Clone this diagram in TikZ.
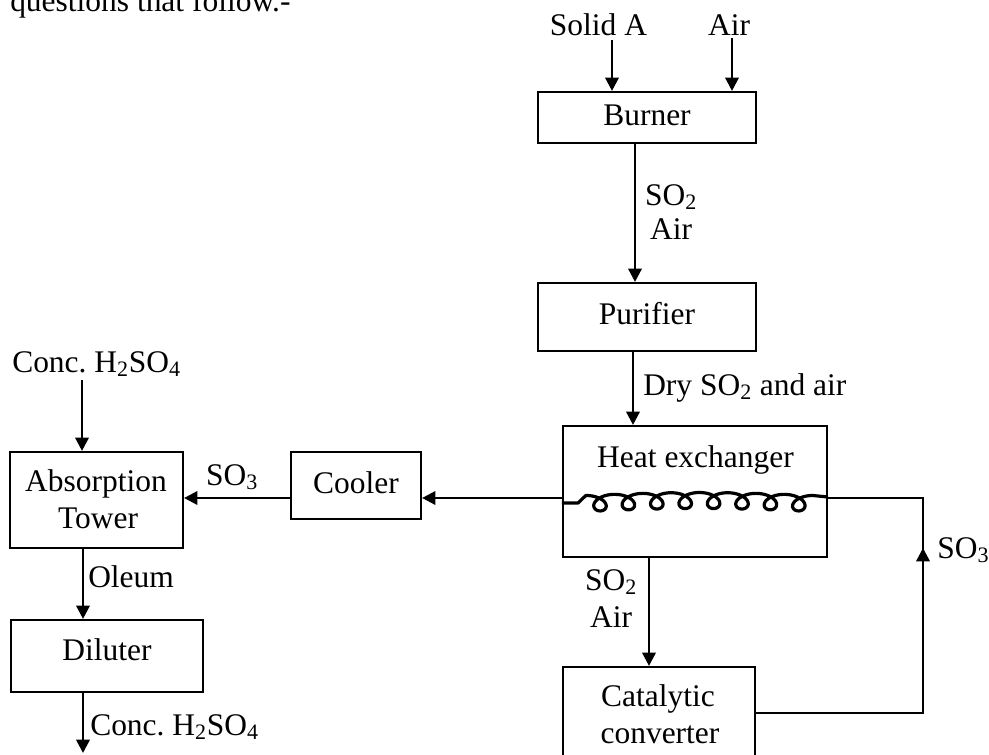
\documentclass[tikz,border=0pt]{standalone}
\usepackage{fontspec}
\setmainfont{Liberation Serif}
\usetikzlibrary{arrows.meta,calc}
\begin{document}
\begin{tikzpicture}[x=0.75pt,y=-0.75pt,
  box/.style={draw, line width=1.6pt, inner sep=0pt},
  txt/.style={inner sep=0pt, anchor=base, font=\fontsize{23.6}{28}\selectfont},
  ltxt/.style={txt, anchor=base west},
  arr/.style={line width=1.9pt, -{Triangle[length=10pt,width=10pt]}},
  ln/.style={line width=1.3pt},
  coilline/.style={line width=2.4pt, line join=round}]
\useasboundingbox (0,0) rectangle (989,754);

% boxes
\node[box, minimum width=163.5pt, minimum height=38.25pt] (burner) at (647,117.5) {};
\node[box, minimum width=163.5pt, minimum height=51pt] (purifier) at (647,317) {};
\node[box, minimum width=198pt, minimum height=98.25pt] (hx) at (695,491.5) {};
\node[box, minimum width=144pt, minimum height=77.25pt] (cat) at (659,718.5) {};
\node[box, minimum width=97.5pt, minimum height=50.25pt] (cooler) at (356,485.5) {};
\node[box, minimum width=129.75pt, minimum height=72pt] (abs) at (96.5,500) {};
\node[box, minimum width=144pt, minimum height=54pt] (dil) at (107,656) {};

% texts
\node[ltxt] (tQ) at (10,11) {questions that follow.-};
\node[txt] (tSolid) at (598.5,35) {Solid A};
\node[txt] (tAir) at (729,35) {Air};
\node[txt] (tBurner) at (647,125) {Burner};
\node[txt] (tSOa) at (671,205) {SO\textsubscript{2}};
\node[txt] (tAira) at (671,239) {Air};
\node[txt] (tPur) at (647,324) {Purifier};
\node[ltxt] (tDry) at (643,395) {Dry SO\textsubscript{2} and air};
\node[txt] (tHX) at (695.5,467) {Heat exchanger};
\node[txt] (tSOb) at (611,590) {SO\textsubscript{2}};
\node[txt] (tAirb) at (611,627) {Air};
\node[txt] (tCatA) at (658,706) {Catalytic};
\node[txt] (tCatB) at (660,743) {converter};
\node[ltxt] (tSOr) at (937,558) {SO\textsubscript{3}};
\node[txt] (tAbsA) at (96,491) {Absorption};
\node[txt] (tAbsB) at (98,528) {Tower};
\node[txt] (tSOl) at (232,485) {SO\textsubscript{3}};
\node[txt] (tCool) at (356,493) {Cooler};
\node[ltxt] (tConcTop) at (12,372) {Conc.\ H\textsubscript{2}SO\textsubscript{4}};
\node[ltxt] (tOleum) at (88,587) {Oleum};
\node[txt] (tDil) at (107,660) {Diluter};
\node[ltxt] (tConcBot) at (90,735) {Conc.\ H\textsubscript{2}SO\textsubscript{4}};

% helper coordinates
\coordinate (pSA) at (612,40);
\coordinate (pAir) at (732,38);
\coordinate (xBP) at (635,0);
\coordinate (xPH) at (633,0);
\coordinate (xHC) at (649,0);
\coordinate (yMain) at (0,498);
\coordinate (pConc) at (82,380);
\coordinate (xOl) at (83,0);
\coordinate (pOut) at (83,753);
\coordinate (cR1) at (923,713);
\coordinate (cR2) at (923,498);
\coordinate (cTip) at (923,548);
\coordinate (yCoilL) at (0,503);
\coordinate (yCoilR) at (0,497);

% arrows
\draw[arr] (pSA) -- (pSA |- burner.north);
\draw[arr] (pAir) -- (pAir |- burner.north);
\draw[arr] (burner.south -| xBP) -- (purifier.north -| xBP);
\draw[arr] (purifier.south -| xPH) -- (hx.north -| xPH);
\draw[arr] (hx.south -| xHC) -- (cat.north -| xHC);
\draw[arr] (hx.west |- yMain) -- (cooler.east |- yMain);
\draw[arr] (cooler.west |- yMain) -- (abs.east |- yMain);
\draw[arr] (pConc) -- (abs.north -| pConc);
\draw[arr] (abs.south -| xOl) -- (dil.north -| xOl);
\draw[arr] (dil.south -| xOl) -- (pOut);

% SO3 return line
\draw[ln] (cat.east |- cR1) -- (cR1) -- (cR2) -- (hx.east |- cR2);
\draw[arr] (cR1) -- (cTip);

% coil
\draw[coilline] (hx.west |- yCoilL) -- (578,503) --
  plot[variable=\t, domain=-3.1416:47.124, samples=600]
  ({600+4.52*\t-12.5*sin(\t r)},{503.5-3*sin(180*(\t+3.1416)/50.265)+8*cos(\t r)})
  -- (hx.east |- yCoilR);
\end{tikzpicture}
\end{document}
